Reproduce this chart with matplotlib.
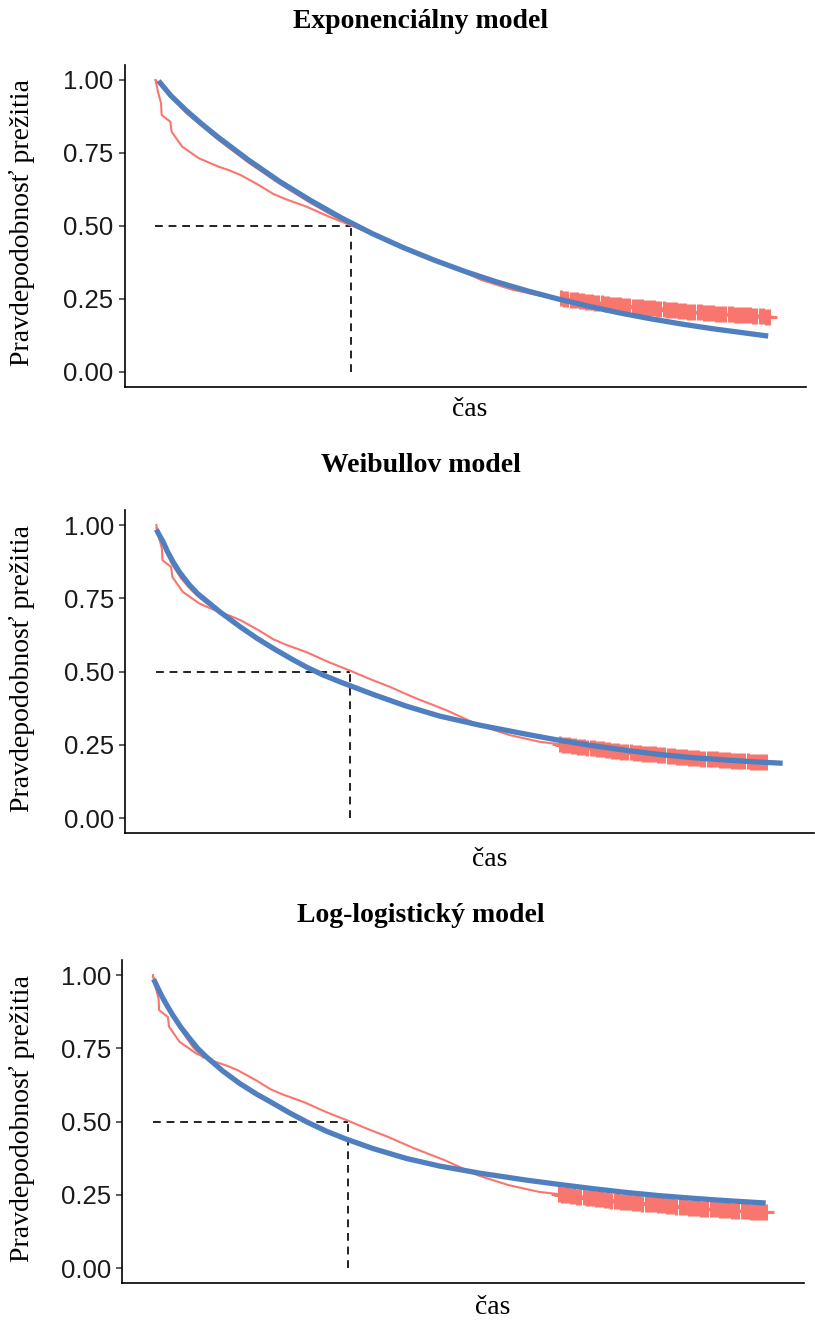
import matplotlib
matplotlib.use("Agg")
import matplotlib.pyplot as plt

# Kaplan-Meier estimate (same data in all three panels), time in arbitrary units
km_time = [0, 0.4, 0.9, 1.0, 2.4, 2.6, 4.3, 7.0, 10.2, 12.0, 13.7, 16.7, 19.0, 21.0,
           24.4, 28.0, 31.7, 34.5, 37.9, 42.0, 47.1, 52.5, 57.4, 62.3]
km_surv = [1.0, 0.96, 0.92, 0.88, 0.857, 0.823, 0.772, 0.732, 0.703, 0.690, 0.675, 0.640,
           0.610, 0.592, 0.566, 0.532, 0.501, 0.476, 0.448, 0.410, 0.368, 0.316, 0.283,
           0.260]
# censored tail of the KM curve (marked with +)
cens_time = [65.5, 66, 66.5, 67, 67.5, 68, 68.5, 69, 69.5, 70, 70.5, 71, 71.5, 72, 72.5,
             73, 73.5, 74, 74.5, 75, 75.5, 76, 76.5, 77, 77.5, 78, 78.5, 79, 79.5, 80,
             80.5, 81, 81.5, 82, 82.5, 83, 83.5, 84, 84.5, 85, 85.5, 86, 86.5, 87, 87.5,
             88, 88.5, 89, 89.5, 90, 90.5, 91, 91.5, 92, 92.5, 93, 93.5, 94, 94.5, 95,
             95.5, 96, 96.5, 97, 97.5, 98, 98.5, 99]
cens_surv = [0.252, 0.250, 0.249, 0.248, 0.246, 0.245, 0.244, 0.243, 0.241, 0.240, 0.239,
             0.238, 0.236, 0.235, 0.234, 0.233, 0.231, 0.230, 0.229, 0.228, 0.227, 0.226,
             0.225, 0.224, 0.223, 0.222, 0.221, 0.220, 0.219, 0.219, 0.218, 0.217, 0.216,
             0.215, 0.214, 0.213, 0.212, 0.211, 0.210, 0.209, 0.208, 0.207, 0.206, 0.206,
             0.205, 0.204, 0.203, 0.203, 0.202, 0.201, 0.200, 0.200, 0.199, 0.199, 0.198,
             0.197, 0.196, 0.196, 0.195, 0.195, 0.194, 0.194, 0.193, 0.193, 0.192, 0.191,
             0.190, 0.190]
tail_time = [99, 100]
tail_surv = [0.190, 0.190]
median_time = 31.5

# fitted models
exp_time = [0.5, 2.5, 5, 7.5, 10, 15, 20, 25, 30, 35, 40, 45, 50, 55, 60, 65, 70, 75, 80,
            85, 90, 95, 98.9]
exp_surv = [0.997, 0.946, 0.895, 0.849, 0.806, 0.726, 0.653, 0.588, 0.528, 0.474, 0.426,
            0.383, 0.344, 0.309, 0.278, 0.250, 0.225, 0.202, 0.182, 0.164, 0.148, 0.134,
            0.123]
exp_hug_time = [0, 5, 10, 15, 20, 25, 30, 31.7]
exp_hug_surv = [1.0, 0.886, 0.797, 0.717, 0.645, 0.579, 0.519, 0.501]

wei_time = [0, 0.5, 1.1, 1.8, 2.7, 3.8, 5.4, 6.7, 8.1, 10.3, 13.6, 16.3, 19.0, 21.7, 24.4,
            27.1, 29.8, 35.2, 40.6, 46.0, 52.5, 60.1, 65.5, 70.9, 76.3, 81.7, 87.1, 92.6,
            97.1, 101.7]
wei_surv = [0.985, 0.965, 0.943, 0.910, 0.875, 0.838, 0.795, 0.766, 0.742, 0.704, 0.653,
            0.614, 0.579, 0.546, 0.515, 0.488, 0.465, 0.422, 0.382, 0.348, 0.317, 0.286,
            0.265, 0.247, 0.231, 0.217, 0.206, 0.198, 0.192, 0.187]
wei_hug_time = [0, 1.0, 2.5, 4.0, 5.5, 7.0, 8.5]
wei_hug_surv = [0.99, 0.935, 0.868, 0.818, 0.782, 0.752, 0.728]

ll_time = [0.1, 0.8, 1.5, 2.3, 3.2, 4.5, 5.9, 7.2, 8.6, 11.3, 14.0, 16.7, 19.4, 22.1, 24.8,
           28.0, 31.2, 35.5, 40.9, 46.3, 52.7, 60.3, 65.7, 71.0, 76.4, 81.8, 87.2, 92.6,
           98.9]
ll_surv = [0.986, 0.955, 0.925, 0.895, 0.863, 0.822, 0.784, 0.750, 0.721, 0.672, 0.630,
           0.594, 0.562, 0.529, 0.499, 0.467, 0.440, 0.408, 0.374, 0.348, 0.324, 0.300,
           0.285, 0.271, 0.258, 0.247, 0.238, 0.230, 0.222]
ll_hug_time = [0, 2.2, 4.3, 6.5, 8.1]
ll_hug_surv = [0.994, 0.900, 0.820, 0.752, 0.718]

titles = ["Exponenciálny model", "Weibullov model", "Log-logistický model"]
models = [(exp_time, exp_surv, exp_hug_time, exp_hug_surv),
          (wei_time, wei_surv, wei_hug_time, wei_hug_surv),
          (ll_time, ll_surv, ll_hug_time, ll_hug_surv)]
y_ticks = [0, 0.25, 0.5, 0.75, 1.0]
y_ticklabels = ["0.00", "0.25", "0.50", "0.75", "1.00"]

RED = "#F8766D"
BLUE = "#4F7FBF"
W, H = 815, 1322
SERIF = "Liberation Serif"
SANS = "Liberation Sans"

# pixel layout of each panel: left, right, top, bottom, title y, xlabel (x, y), ylabel y
layout = [
    (124.5, 806, 65.4, 386.6, 22, (470, 410), 222),
    (125, 814, 510.4, 832.7, 465, (490, 860), 668),
    (122, 803.5, 960.4, 1282.7, 915, (493, 1308), 1118),
]

fig = plt.figure(figsize=(W / 100, H / 100), dpi=100)

for i, (mt, ms, ht, hs) in enumerate(models):
    left, right, top, bottom, ty, (lx, ly), yly = layout[i]
    ax = fig.add_axes([left / W, 1 - bottom / H, (right - left) / W, (bottom - top) / H])

    # median lines
    ax.plot([0, median_time], [0.5, 0.5], color="#222222", lw=1.4, ls=(0, (4, 3)), zorder=1)
    ax.plot([median_time, median_time], [0, 0.5], color="#222222", lw=1.4, ls=(0, (4, 3)), zorder=1)

    # KM curve with censoring marks
    ax.plot(ht, hs, color=RED, lw=1.4, zorder=2)
    ax.plot(km_time + cens_time, km_surv + cens_surv, color=RED, lw=1.5, zorder=2)
    ax.plot(tail_time, tail_surv, color=RED, lw=1.5, zorder=2)
    ax.plot(cens_time, cens_surv, ls="none", marker="+", ms=12, mew=2.2, color=RED, zorder=2)

    # fitted model
    ax.plot(mt, ms, color=BLUE, lw=3.8, zorder=3, solid_capstyle="butt")

    ax.margins(x=0.05)
    ax.set_ylim(-0.05, 1.05)
    ax.set_yticks(y_ticks)
    ax.set_yticklabels(y_ticklabels, fontsize=18.5, family=SANS, color="#1a1a1a")
    ax.set_xticks([])
    ax.tick_params(axis="y", length=4, width=1.1, pad=4, color="#333333")
    for s in ["top", "right"]:
        ax.spines[s].set_visible(False)
    for s in ["left", "bottom"]:
        ax.spines[s].set_linewidth(1.2)
        ax.spines[s].set_color("black")

    fig.text(421 / W, 1 - ty / H, titles[i], ha="center", va="center",
             fontsize=20, fontweight="bold", family=SERIF)
    fig.text(lx / W, 1 - ly / H, "čas", ha="center", va="center", fontsize=20, family=SERIF)
    fig.text(22 / W, 1 - yly / H, "Pravdepodobnosť prežitia", ha="center", va="center",
             rotation=90, fontsize=20, family=SERIF)

fig.savefig("out.png", dpi=100)
